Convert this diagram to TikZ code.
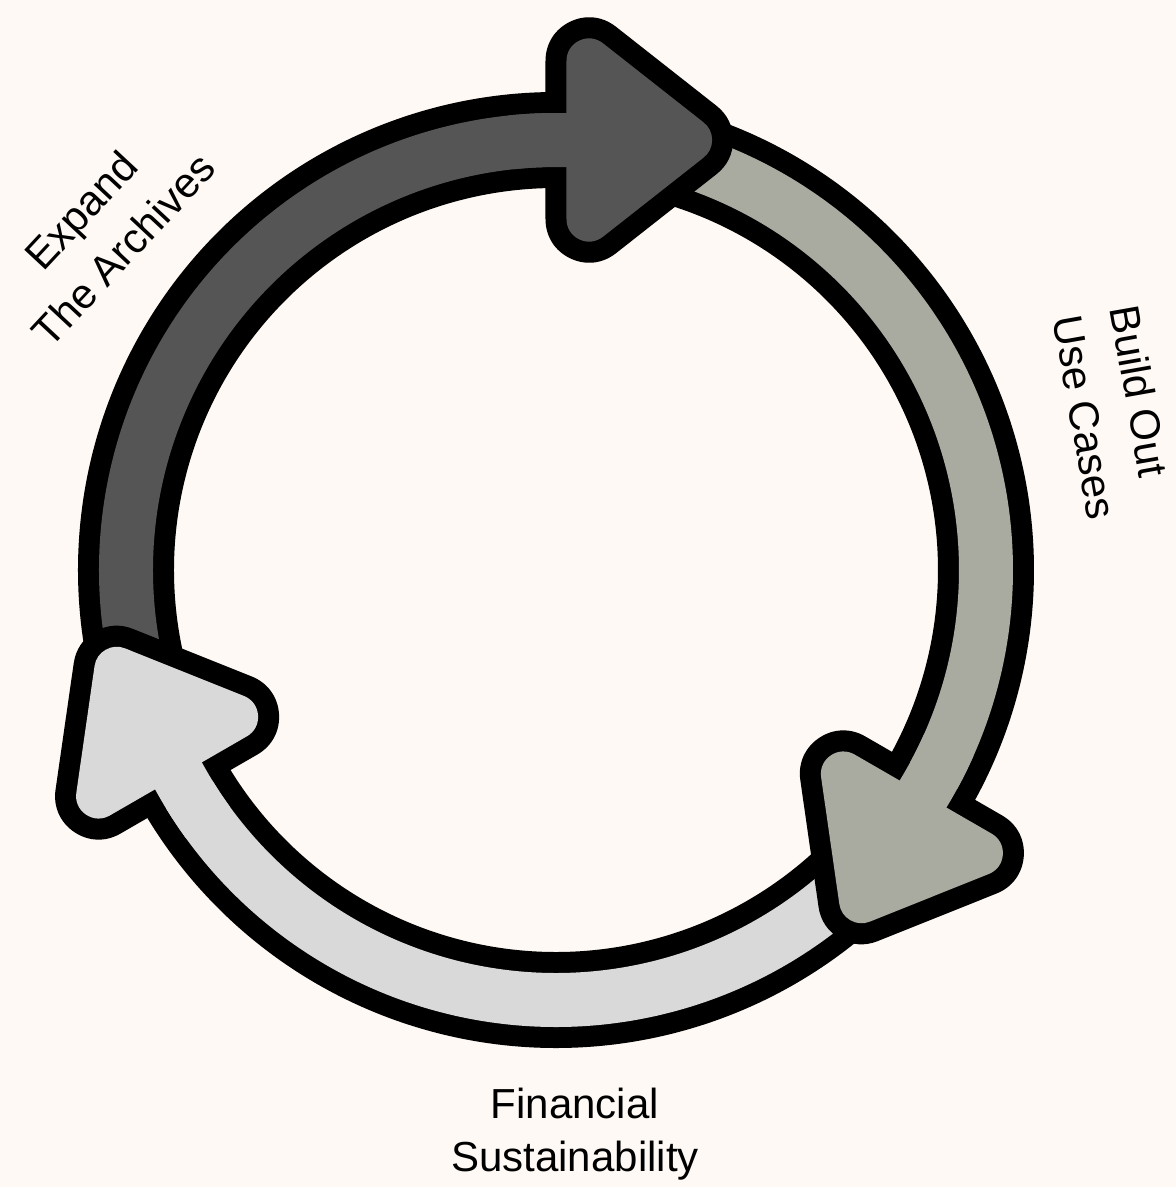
\documentclass[tikz,border=0pt]{standalone}
\usepackage{fontspec}
\setmainfont{Liberation Sans}
\usetikzlibrary{calc}
\definecolor{bgc}{HTML}{FEF9F4}
\definecolor{darkc}{HTML}{555555}
\definecolor{greyc}{HTML}{A9AAA0}
\definecolor{lightc}{HTML}{D9D9D9}
% band of an arrow: colour, tail angle, head-back angle
\newcommand\bandpart[3]{%
  \draw[bandout] (#2:430) arc[start angle=#2, end angle=#3, radius=430];
  \draw[bandin, draw=#1] (#2:430) arc[start angle=#2, end angle=#3, radius=430];}
% head of an arrow: colour, head-back angle, name prefix
\newcommand\headpart[3]{%
  \coordinate (#3a) at ($(#2:509.1)+(#2-90:33)$);
  \coordinate (#3b) at ($(#2:350.9)+(#2-90:33)$);
  \coordinate (#3c) at ($(#2:430)+(#2-90:133.6)$);
  \filldraw[headout] (#3a) -- (#3b) -- (#3c) -- cycle;
  \filldraw[headin, fill=#1, draw=#1] (#3a) -- (#3b) -- (#3c) -- cycle;}
% joins the band and the head
\newcommand\joinpart[2]{%
  \draw[bandin, draw=#1] (#2+6:430) arc[start angle=#2+6, end angle=#2-4, radius=430];}
\begin{document}
\begin{tikzpicture}[x=1pt, y=1pt,
  bandout/.style={draw=black, line width=96pt},
  bandin/.style={line width=54pt},
  headout/.style={fill=black, draw=black, line width=87pt, line join=round},
  headin/.style={line width=45pt, line join=round},
  lbl/.style={inner sep=0pt, text=black, align=center}]
\fill[bgc] (-556,-617) rectangle (620,570);
\useasboundingbox (-556,-617) rectangle (620,570);
\bandpart{darkc}{196}{90}
\bandpart{greyc}{76}{-30}
\bandpart{lightc}{317}{210}
\headpart{darkc}{90}{hd}
\headpart{greyc}{-30}{hg}
\headpart{lightc}{210}{hl}
\joinpart{darkc}{90}
\joinpart{greyc}{-30}
\joinpart{lightc}{210}
\node[lbl, font=\fontsize{42}{58}\selectfont, rotate=47] (expand) at (-454,340) {Expand\\The Archives};
\node[lbl, font=\fontsize{42}{58}\selectfont, rotate=-80, align=left] (build) at (558,158) {Build Out\\Use Cases};
\node[lbl, font=\fontsize{42}{53}\selectfont] (fin) at (19,-564) {Financial\\Sustainability};
\end{tikzpicture}
\end{document}
